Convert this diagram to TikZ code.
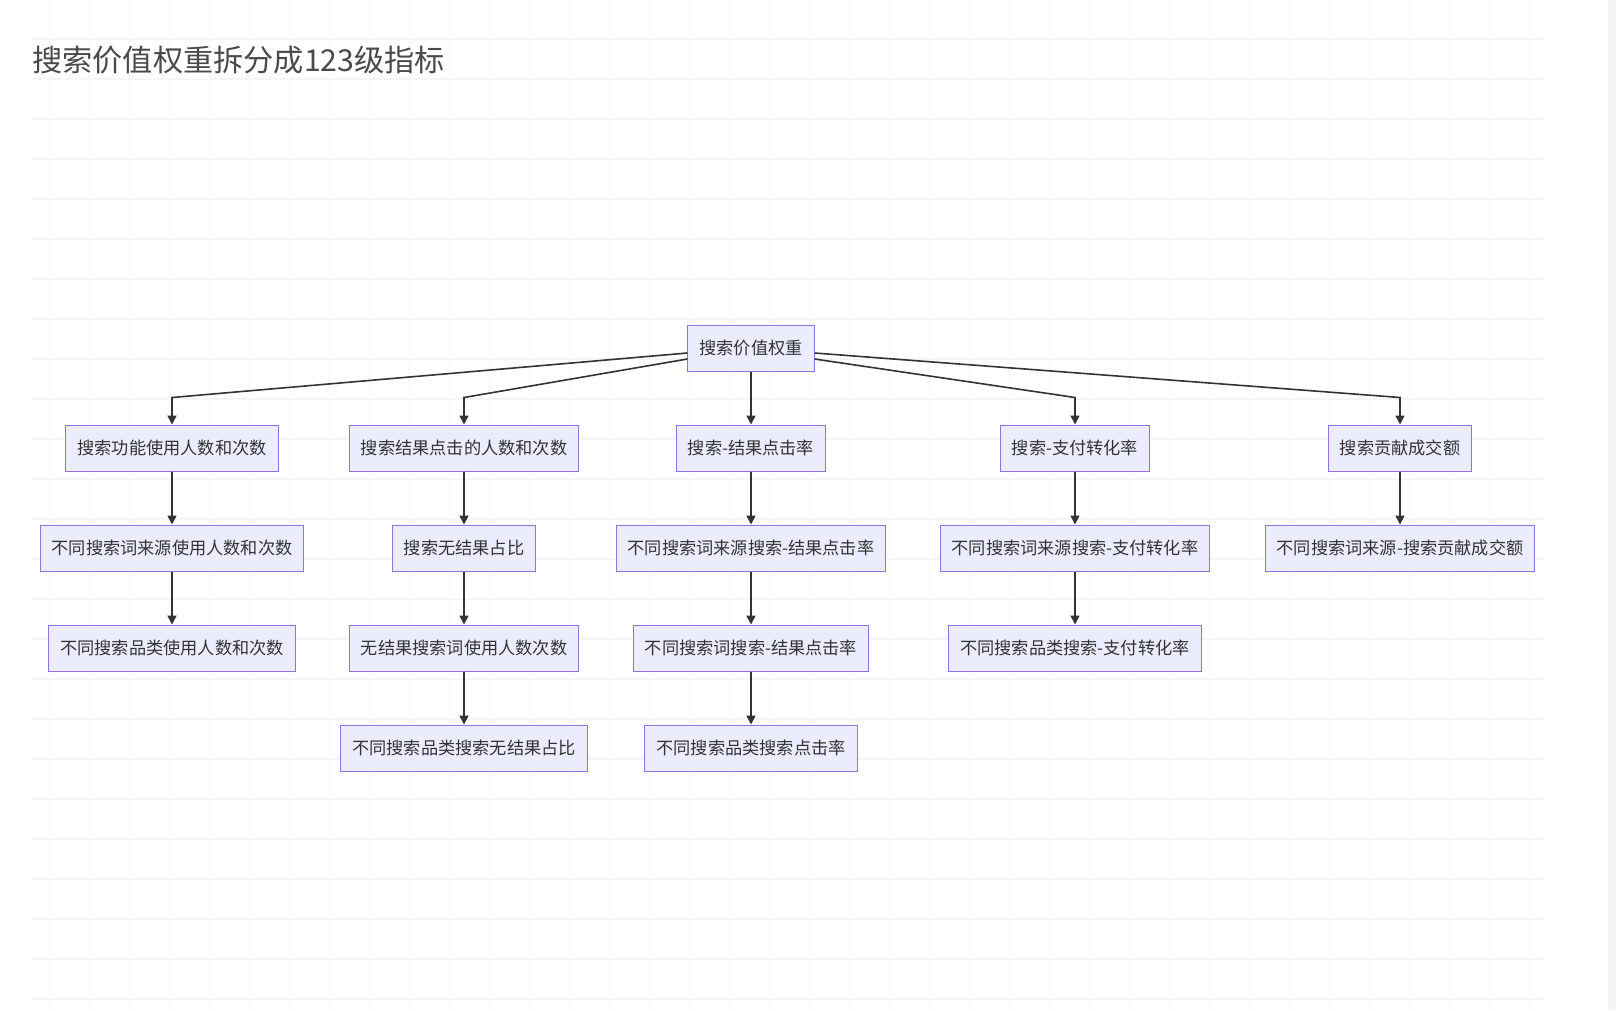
\documentclass[tikz,border=0pt]{standalone}
\usepackage{fontspec}
\setmainfont{Noto Sans CJK SC}
\usetikzlibrary{arrows.meta,calc}
\definecolor{nodefill}{HTML}{ECECFF}
\definecolor{nodeline}{HTML}{9370DB}
\definecolor{edgecol}{HTML}{333333}
\definecolor{gridcol}{HTML}{F5F5F5}
\definecolor{titlecol}{HTML}{4A4A4A}
\definecolor{barcol}{HTML}{F3F4F4}
\begin{document}
\begin{tikzpicture}[x=1pt, y=-1pt,
    metric/.style={rectangle, draw=nodeline, fill=nodefill, line width=1pt, minimum height=46pt, inner xsep=11.5pt, text=edgecol, font=\fontsize{17.2}{20}\selectfont},
    heading/.style={anchor=west, text=titlecol, inner sep=0pt, font=\fontsize{30.2}{34}\selectfont},
    arr/.style={-{Triangle[length=9pt,width=9pt]}, line width=1.6pt, draw=edgecol},
    gridline/.style={draw=gridcol, line width=#1},
]
    % Canvas and grid
    \useasboundingbox[fill=white] (0,0) rectangle (1616,1010);
    \fill[barcol] (1608,0) rectangle (1616,1010);
    \foreach \gx in {49,89,...,1529}
        \draw[gridline=0.9pt] (\gx,0) -- (\gx,1010);
    \foreach \gy in {39,79,...,999}
        \draw[gridline=1.4pt] (33,\gy) -- (1544,\gy);

    % Title
    \node[heading] (title) at (32,60) {搜索价值权重拆分成123级指标};

    % Root
    \node[metric] (root) at (751,348) {搜索价值权重};

    % Column A
    \node[metric] (a1) at (172,448) {搜索功能使用人数和次数};
    \node[metric] (a2) at (172,548) {不同搜索词来源使用人数和次数};
    \node[metric] (a3) at (172,648) {不同搜索品类使用人数和次数};

    % Column B
    \node[metric] (b1) at (464,448) {搜索结果点击的人数和次数};
    \node[metric] (b2) at (464,548) {搜索无结果占比};
    \node[metric] (b3) at (464,648) {无结果搜索词使用人数次数};
    \node[metric] (b4) at (464,748) {不同搜索品类搜索无结果占比};

    % Column C
    \node[metric] (c1) at (751,448) {搜索-结果点击率};
    \node[metric] (c2) at (751,548) {不同搜索词来源搜索-结果点击率};
    \node[metric] (c3) at (751,648) {不同搜索词搜索-结果点击率};
    \node[metric] (c4) at (751,748) {不同搜索品类搜索点击率};

    % Column D
    \node[metric] (d1) at (1075,448) {搜索-支付转化率};
    \node[metric] (d2) at (1075,548) {不同搜索词来源搜索-支付转化率};
    \node[metric] (d3) at (1075,648) {不同搜索品类搜索-支付转化率};

    % Column E
    \node[metric] (e1) at (1400,448) {搜索贡献成交额};
    \node[metric] (e2) at (1400,548) {不同搜索词来源-搜索贡献成交额};

    % Root to level 1
    \draw[arr] ($(root.west)+(0,5)$) -- ($(a1.north)+(0,-27)$) -- (a1.north);
    \draw[arr] ($(root.west)+(0,11)$) -- ($(b1.north)+(0,-27)$) -- (b1.north);
    \draw[arr] (root) -- (c1);
    \draw[arr] ($(root.east)+(0,11)$) -- ($(d1.north)+(0,-27)$) -- (d1.north);
    \draw[arr] ($(root.east)+(0,5)$) -- ($(e1.north)+(0,-27)$) -- (e1.north);

    % Lower levels
    \draw[arr] (a1) -- (a2);
    \draw[arr] (a2) -- (a3);
    \draw[arr] (b1) -- (b2);
    \draw[arr] (b2) -- (b3);
    \draw[arr] (b3) -- (b4);
    \draw[arr] (c1) -- (c2);
    \draw[arr] (c2) -- (c3);
    \draw[arr] (c3) -- (c4);
    \draw[arr] (d1) -- (d2);
    \draw[arr] (d2) -- (d3);
    \draw[arr] (e1) -- (e2);
\end{tikzpicture}
\end{document}
